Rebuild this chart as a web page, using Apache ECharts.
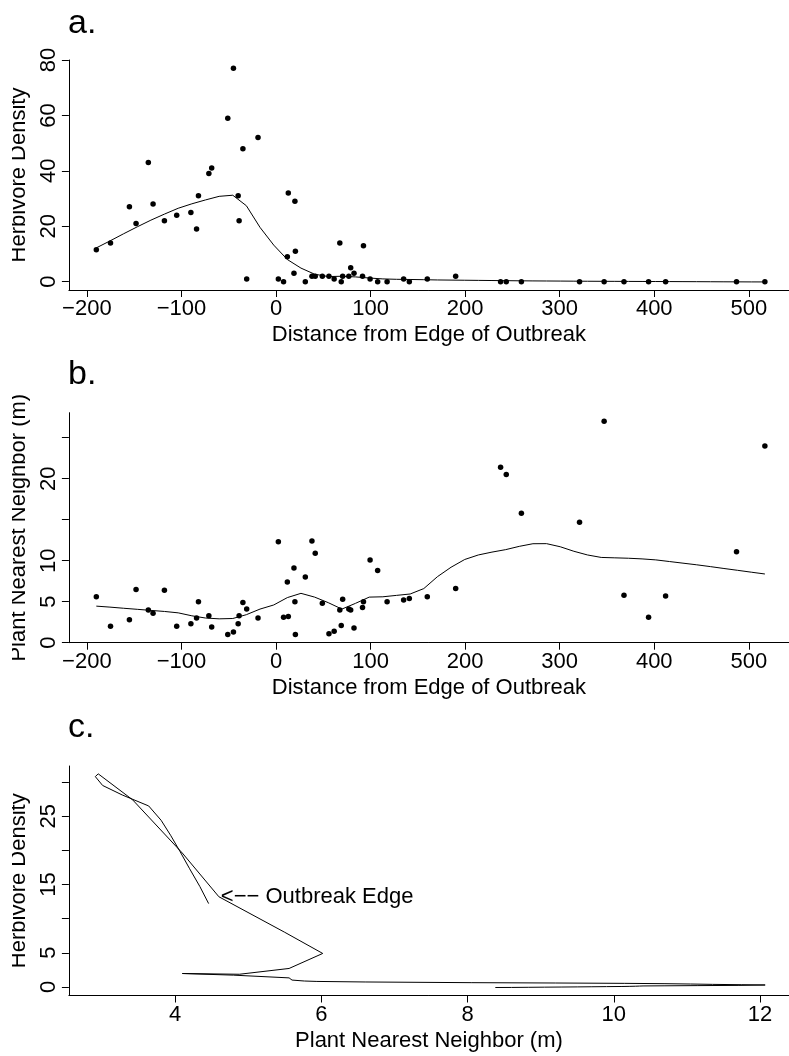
<!DOCTYPE html>
<html>
<head>
<meta charset="utf-8">
<script src="https://cdn.jsdelivr.net/npm/echarts@6/dist/echarts.min.js"></script>
<style>
  html, body { margin: 0; padding: 0; background: #fff; }
  #chart { width: 789px; height: 1056px; }
</style>
</head>
<body>
<div id="chart"></div>
<script>
// sites: distance from the outbreak edge
const distance = [-190, -175, -155, -148, -135, -130, -118, -105, -90, -84, -82, -71, -68, -51, -45, -40, -39, -35, -31, -19,
  2.5, 8, 12, 13, 19, 20, 20.5, 31, 38, 41.5, 49, 56, 61.5, 67.5, 69, 70.5, 77, 79, 82.5, 91.5, 92.5, 99.5, 107.5, 117.5,
  135, 141, 160, 190, 237.5, 243.5, 259.5, 321, 347, 368, 394, 412, 487, 517];
const density = [11.5, 14, 27, 21, 43, 28, 22, 24, 25, 19, 31, 39, 41, 59, 77, 31, 22, 48, 1, 52,
  1, 0, 9, 32, 3, 29, 11, 0, 2, 2, 2, 2, 1, 14, 0, 2, 2, 5, 3, 2, 13, 1, 0, 0,
  1, 0, 1, 2, 0, 0, 0, 0, 0, 0, 0, 0, 0, 0];
const nearestNeighbor = [5.6, 2.0, 2.8, 6.5, 4.0, 3.6, 6.4, 2.0, 2.3, 3.0, 5.0, 3.3, 1.9, 1.0, 1.3, 2.3, 3.3, 4.9, 4.1, 3.0,
  12.3, 3.1, 7.4, 3.2, 9.1, 5.0, 1.0, 8.0, 12.4, 10.9, 4.8, 1.1, 1.4, 4.0, 2.1, 5.3, 4.1, 4.0, 1.8, 4.3, 5.0, 10.1, 8.8, 5.0,
  5.2, 5.4, 5.6, 6.6, 21.4, 20.5, 15.8, 14.7, 27.0, 5.8, 3.1, 5.7, 11.1, 24.0];

// smoothed fits, read at the evaluation points
const fitDistance = [-190, -175.6, -161.1, -146.7, -132.3, -117.9, -103.4, -89.0, -74.6, -60.1, -45.7, -31.3, -16.9, -2.4,
  12.0, 26.4, 40.9, 55.3, 69.7, 84.1, 98.6, 113.0, 127.4, 141.9, 156.3, 170.7, 185.1, 199.6, 214.0, 228.4, 242.9, 257.3,
  271.7, 286.1, 300.6, 315.0, 329.4, 343.9, 358.3, 372.7, 387.1, 401.6, 416.0, 430.4, 444.9, 459.3, 473.7, 488.1, 502.6, 517];
const fitDensity = [12.2, 14.7, 17.3, 19.8, 22.2, 24.4, 26.5, 28.1, 29.5, 30.8, 31.2, 27.4, 19.6, 13.2,
  8.0, 4.9, 2.7, 1.85, 1.96, 1.72, 1.32, 1.0, 0.86, 0.8, 0.72, 0.62, 0.57, 0.52, 0.47, 0.42, 0.37, 0.32,
  0.28, 0.25, 0.22, 0.19, 0.16, 0.14, 0.12, 0.1, 0.08, 0.06, 0.04, 0.02, 0.0, -0.02, -0.04, -0.06, -0.08, -0.09];
const fitNeighbor = [4.46, 4.34, 4.2, 4.07, 3.94, 3.81, 3.64, 3.28, 3.01, 2.91, 2.95, 3.42, 4.1, 4.6,
  5.5, 6.02, 5.56, 4.88, 4.1, 4.8, 5.56, 5.6, 5.77, 5.94, 6.6, 8.05, 9.2, 10.15, 10.7, 11.05, 11.35, 11.75,
  12.07, 12.08, 11.7, 11.15, 10.7, 10.4, 10.35, 10.3, 10.22, 10.1, 9.9, 9.7, 9.5, 9.28, 9.05, 8.83, 8.6, 8.38];

const distanceTicks = [-200, -100, 0, 100, 200, 300, 400, 500];
const densityTicks = [0, 20, 40, 60, 80];
const neighborTicks = [0, 5, 10, 15, 20, 25];
const neighborLabels = [0, 5, 10, 20];
const neighborXTicks = [4, 6, 8, 10, 12];
const densityTicksC = [0, 5, 10, 15, 20, 25, 30];
const densityLabelsC = [0, 5, 15, 25];

const edgePoint = [[4.62, 13.2]];
const edgeText = '<\u2212\u2212 Outbreak Edge';

const FONT = 'Liberation Sans, Arial, Helvetica, sans-serif';
const minus = v => String(v).replace('-', '\u2212');
const pairs = (xs, ys) => xs.map((x, i) => [x, ys[i]]);

const xAxisBase = (name, min, max, ticks) => ({
  type: 'value',
  min: min,
  max: max,
  name: name,
  nameLocation: 'middle',
  nameGap: 34,
  nameTextStyle: { fontFamily: FONT, fontSize: 22, color: '#000' },
  splitLine: { show: false },
  axisLine: { onZero: false, lineStyle: { color: '#000', width: 1 } },
  axisTick: { customValues: ticks, length: 7, lineStyle: { color: '#000' } },
  axisLabel: { customValues: ticks, margin: 8, fontFamily: FONT, fontSize: 22, color: '#000', formatter: minus },
});

const yAxisBase = (name, min, max, ticks, labels) => ({
  type: 'value',
  min: min,
  max: max,
  name: name,
  nameLocation: 'middle',
  nameGap: 30,
  nameTextStyle: { fontFamily: FONT, fontSize: 22, color: '#000' },
  splitLine: { show: false },
  axisLine: { onZero: false, lineStyle: { color: '#000', width: 1 } },
  axisTick: { customValues: ticks, length: 7, lineStyle: { color: '#000' } },
  axisLabel: { customValues: labels, rotate: 90, margin: 9, fontFamily: FONT, fontSize: 22, color: '#000' },
});

const chart = echarts.init(document.getElementById('chart'), null, { renderer: 'canvas' });

const option = {
  animation: false,
  backgroundColor: '#fff',
  grid: [
    { left: 67, top: 60, width: 722, height: 230 },
    { left: 67, top: 412.7, width: 722, height: 230 },
    { left: 67.7, top: 766, width: 721.3, height: 229.5 },
  ],
  xAxis: [
    Object.assign(xAxisBase('Distance from Edge of Outbreak', -219, 542.5, distanceTicks), { gridIndex: 0 }),
    Object.assign(xAxisBase('Distance from Edge of Outbreak', -219, 542.5, distanceTicks), { gridIndex: 1 }),
    Object.assign(xAxisBase('Plant Nearest Neighbor (m)', 2.549, 12.396, neighborXTicks), { gridIndex: 2 }),
  ],
  yAxis: [
    Object.assign(yAxisBase('Herbivore Density', -3, 80, densityTicks, densityTicks), { gridIndex: 0 }),
    Object.assign(yAxisBase('Plant Nearest Neighbor (m)', 0, 28.05, neighborTicks, neighborLabels), { gridIndex: 1 }),
    Object.assign(yAxisBase('Herbivore Density', -1.26, 32.35, densityTicksC, densityLabelsC), { gridIndex: 2 }),
  ],
  graphic: [
    { type: 'text', left: 68, top: 7, style: { text: 'a.', font: '34px ' + FONT, fill: '#000' } },
    { type: 'text', left: 68, top: 358, style: { text: 'b.', font: '34px ' + FONT, fill: '#000' } },
    { type: 'text', left: 68, top: 711, style: { text: 'c.', font: '34px ' + FONT, fill: '#000' } },
    // the source figure is cropped through the y-axis titles
    { type: 'rect', left: 0, top: 0, z: 100, shape: { width: 12, height: 1056 }, style: { fill: '#fff' } },
  ],
  series: [
    {
      type: 'scatter', xAxisIndex: 0, yAxisIndex: 0,
      data: pairs(distance, density),
      symbolSize: 5.5, itemStyle: { color: '#000', opacity: 1 },
    },
    {
      type: 'line', xAxisIndex: 0, yAxisIndex: 0,
      data: pairs(fitDistance, fitDensity),
      showSymbol: false, lineStyle: { color: '#000', width: 1 },
    },
    {
      type: 'scatter', xAxisIndex: 1, yAxisIndex: 1,
      data: pairs(distance, nearestNeighbor),
      symbolSize: 5.5, itemStyle: { color: '#000', opacity: 1 },
    },
    {
      type: 'line', xAxisIndex: 1, yAxisIndex: 1,
      data: pairs(fitDistance, fitNeighbor),
      showSymbol: false, lineStyle: { color: '#000', width: 1 },
    },
    {
      // fitted neighbour distance vs fitted density, in order of distance
      type: 'line', xAxisIndex: 2, yAxisIndex: 2,
      data: pairs(fitNeighbor, fitDensity),
      showSymbol: false, lineStyle: { color: '#000', width: 1 },
    },
    {
      type: 'scatter', xAxisIndex: 2, yAxisIndex: 2,
      data: edgePoint,
      symbol: 'circle', symbolSize: 1,
      itemStyle: { color: 'rgba(0,0,0,0)', opacity: 1 },
      label: {
        show: true, position: 'right', distance: 0,
        formatter: edgeText,
        fontFamily: FONT, fontSize: 22, color: '#000', opacity: 1,
      },
    },
  ],
};

chart.setOption(option);
</script>
</body>
</html>
